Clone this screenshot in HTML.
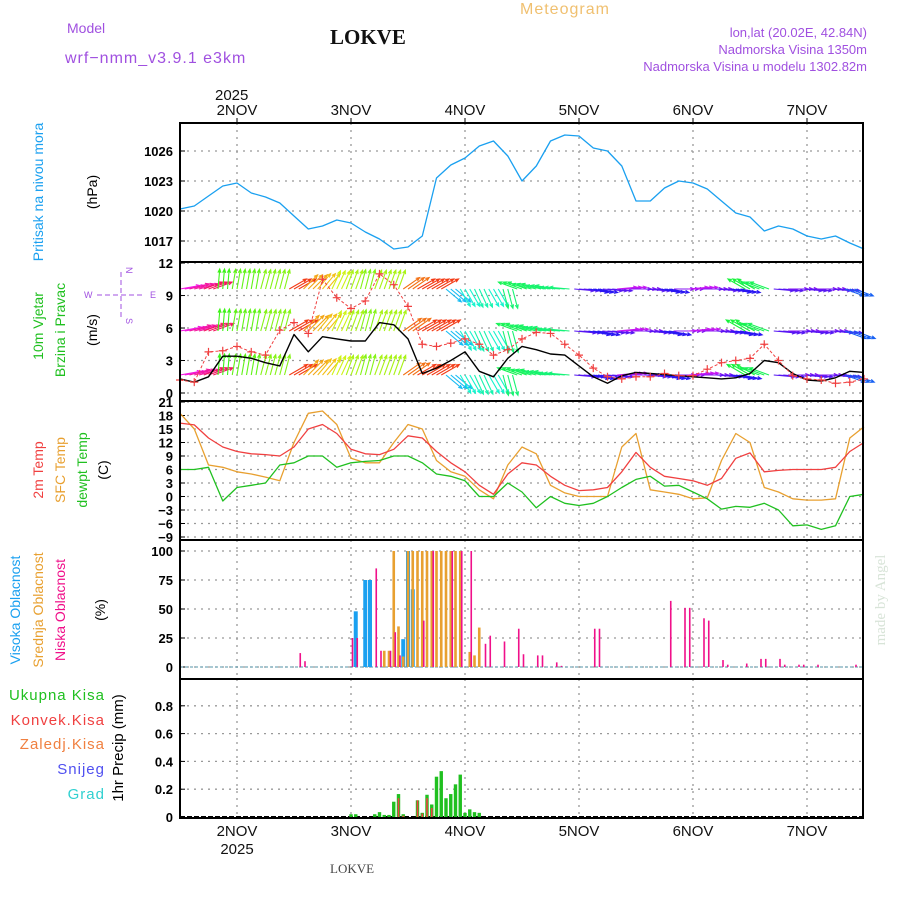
<!DOCTYPE html>
<html><head><meta charset="utf-8"><title>Meteogram LOKVE</title>
<style>
html,body{margin:0;padding:0;background:#fff;}
svg{display:block;}
.tk{font-family:"Liberation Sans",sans-serif;font-weight:bold;font-size:13px;fill:#000;}
.dt{font-family:"Liberation Sans",sans-serif;font-size:15px;fill:#111;}
.lb{font-family:"Liberation Sans",sans-serif;font-size:14px;}
</style></head>
<body>
<svg id="chart" width="900" height="900" viewBox="0 0 900 900" xmlns="http://www.w3.org/2000/svg">
<text x="67" y="33" class="lb" fill="#a050e0">Model</text>
<text x="65" y="63" class="lb" fill="#a050e0" style="font-size:16px;letter-spacing:1px">wrf−nmm_v3.9.1  e3km</text>
<text x="330" y="44" style="font-family:'Liberation Serif',serif;font-weight:bold;font-size:21px;fill:#111">LOKVE</text>
<text x="520" y="14" class="lb" fill="#f0c070" style="font-size:16px;letter-spacing:1px">Meteogram</text>
<text x="867" y="37" text-anchor="end" class="lb" fill="#a050e0" style="font-size:13px">lon,lat (20.02E, 42.84N)</text>
<text x="867" y="54" text-anchor="end" class="lb" fill="#a050e0" style="font-size:13px">Nadmorska Visina 1350m</text>
<text x="867" y="71" text-anchor="end" class="lb" fill="#a050e0" style="font-size:13px">Nadmorska Visina u modelu 1302.82m</text>
<text x="215" y="100" class="dt">2025</text>
<text x="330" y="873" style="font-family:'Liberation Serif',serif;font-size:13px;fill:#444">LOKVE</text>
<text transform="translate(885,600) rotate(-90)" text-anchor="middle" style="font-family:'Liberation Serif',serif;font-size:15px;fill:#d8e4d8">made by Angel</text>

<text transform="translate(43,192) rotate(-90)" text-anchor="middle" class="lb" fill="#1aa0f0">Pritisak na nivou mora</text>
<text transform="translate(97,192) rotate(-90)" text-anchor="middle" class="lb" fill="#000">(hPa)</text>
<text transform="translate(43,326) rotate(-90)" text-anchor="middle" class="lb" fill="#20c020">10m Vjetar</text>
<text transform="translate(65,330) rotate(-90)" text-anchor="middle" class="lb" fill="#20c020">Brzina i Pravac</text>
<text transform="translate(97,330) rotate(-90)" text-anchor="middle" class="lb" fill="#000">(m/s)</text>
<g fill="#a050e0" font-family="Liberation Sans,sans-serif" font-size="9">
<text transform="translate(126,267) rotate(90)">N</text>
<text x="84" y="298">W</text>
<text x="150" y="298">E</text>
<text transform="translate(126,318) rotate(90)">S</text>
<line x1="97" y1="295" x2="145" y2="295" stroke="#a050e0" stroke-dasharray="5,3"/>
<line x1="121" y1="272" x2="121" y2="318" stroke="#a050e0" stroke-dasharray="5,3"/>
</g>
<text transform="translate(43,470) rotate(-90)" text-anchor="middle" class="lb" fill="#f04040">2m Temp</text>
<text transform="translate(65,470) rotate(-90)" text-anchor="middle" class="lb" fill="#e8a030">SFC Temp</text>
<text transform="translate(87,470) rotate(-90)" text-anchor="middle" class="lb" fill="#20c020">dewpt Temp</text>
<text transform="translate(108,470) rotate(-90)" text-anchor="middle" class="lb" fill="#000">(C)</text>
<text transform="translate(20,610) rotate(-90)" text-anchor="middle" class="lb" fill="#1aa0f0">Visoka Oblacnost</text>
<text transform="translate(43,610) rotate(-90)" text-anchor="middle" class="lb" fill="#e8a030">Srednja Oblacnost</text>
<text transform="translate(65,610) rotate(-90)" text-anchor="middle" class="lb" fill="#f0108a">Niska Oblacnost</text>
<text transform="translate(105,610) rotate(-90)" text-anchor="middle" class="lb" fill="#000">(%)</text>
<text x="105" y="700" text-anchor="end" class="lb" fill="#20c020" style="font-size:15px;letter-spacing:1px">Ukupna  Kisa</text>
<text x="105" y="725" text-anchor="end" class="lb" fill="#f04040" style="font-size:15px;letter-spacing:1px">Konvek.Kisa</text>
<text x="105" y="749" text-anchor="end" class="lb" fill="#f08040" style="font-size:15px;letter-spacing:1px">Zaledj.Kisa</text>
<text x="105" y="774" text-anchor="end" class="lb" fill="#5050f0" style="font-size:15px;letter-spacing:1px">Snijeg</text>
<text x="105" y="799" text-anchor="end" class="lb" fill="#30d0d0" style="font-size:15px;letter-spacing:1px">Grad</text>
<text transform="translate(123,748) rotate(-90)" text-anchor="middle" class="lb" fill="#000" style="font-size:15px">1hr Precip (mm)</text>
</svg>
<script>
const startHour = -12, stepHour = 3;
const dayLabels = ["2NOV","3NOV","4NOV","5NOV","6NOV","7NOV"];
const pressure = [1020.2,1020.5,1021.5,1022.5,1022.8,1021.8,1021.4,1020.8,1019.5,1018.2,1018.5,1019.1,1018.8,1017.9,1017.2,1016.2,1016.4,1017.5,1023.3,1024.6,1025.3,1026.5,1027,1025.5,1023,1024.5,1027,1027.6,1027.5,1026.3,1026,1024.5,1021,1021,1022.3,1023,1022.8,1022.2,1021,1019.8,1019.4,1018,1018.5,1018.2,1017.5,1017.2,1017.5,1016.8,1016.2];
const pressureTicks = [1017,1020,1023,1026];
const windSpeed = [1.3,1.0,1.5,3.4,3.4,3.2,2.8,2.5,5.4,3.8,5.2,5.0,4.8,4.8,6.5,6.3,5.0,1.8,2.3,3.0,3.8,2.0,1.5,3.2,4.3,4.0,3.6,3.5,2.5,1.5,0.9,1.6,1.9,1.8,1.7,1.6,1.5,1.4,1.3,1.4,1.8,3.0,2.8,1.8,1.2,1.1,1.4,2.0,1.9];
const windGust = [1.2,1.0,3.8,3.9,4.3,3.8,3.5,5.8,6.5,5.5,10.5,8.8,7.8,8.5,11,10,8,4.5,4.3,4.6,5.0,4.5,3.5,4.0,5.0,5.6,5.5,4.5,3.5,2.3,1.5,1.3,1.5,1.5,1.8,1.6,1.6,2.2,2.8,3.0,3.2,4.5,3.0,1.6,1.3,1.2,0.9,1.0,1.3];
const windDir = [80,75,70,5,10,10,15,15,60,45,40,25,20,15,20,20,55,60,60,130,150,155,150,165,290,285,280,275,95,100,95,85,90,95,100,90,85,90,95,100,300,290,95,90,95,90,95,110,120];
const windTicks = [0,3,6,9,12];
const temp2m = [16.3,15.9,13,11,10,9.5,9.3,9,11,15,16,14,10.5,9.5,9.3,10.5,13.5,13,10,7.5,5.5,2.5,0.5,5,7.5,7,4.5,2.5,1.3,1.5,2,5.5,9.8,6.5,4.5,4,3.5,2.5,4,8.5,9.7,5.5,5.8,6,6,6,6.5,10,12];
const tempSfc = [18.5,15,7,6.5,5.5,5,4.3,3.5,12,18.5,19,16,8.5,7.5,7.5,12,16,15,8,5.5,4.5,1.5,-0.5,7,11,9.5,2.5,0.8,0,0,0,11,14,1.5,1.0,0.5,-0.5,-0.3,8,14,12,2,1,-0.5,-0.8,-0.8,-0.5,13,15.5];
const dewpt = [6,6,6.5,-1,2,2.5,3,7,7.5,9,9,6.5,7.5,7.8,8,9,9,7.5,5,4.5,3.5,0,0,3,1,-2.5,0,-1.5,-2,-1.5,0,2,3.8,4.5,2.3,2.5,1,-0.5,-2.8,-2.2,-2.4,-1.5,-3,-6.5,-6.3,-7.3,-6.5,0,0.5];
const tempTicks = [-9,-6,-3,0,3,6,9,12,15,18,21];
const highCloudHours = [25,27,28,35,36,37];
const highCloudVals  = [48,75,75,24,100,67];
const midCloudHours = [31,32,33,34,35,36,37,38,39,40,41,42,43,44,45,46,47,49,50,51];
const midCloudVals  = [14,14,100,35,9,100,100,100,100,100,100,100,100,100,100,100,100,13,10,34];
const lowCloudHours = [13,14,24,25,29,30,32,33,34,39,41,45,47,49,52,53,56,59,60,63,64,67,68,75,76,91,94,95,98,99,102,103,107,110,111,114,115,118,119,122,130];
const lowCloudVals  = [12,5,25,25,85,14,14,30,10,40,100,100,100,100,20,27,22,33,11,10,10,4,1,33,33,57,51,51,42,40,6,2,3,7,7,7,2,2,2,2,2];
const cloudTicks = [0,25,50,75,100];
const precipHours = [24,25,29,30,31,32,33,34,35,38,39,40,41,42,43,44,45,46,47,48,49,50,51];
const precipTotal = [0.02,0.02,0.02,0.035,0.015,0.015,0.11,0.165,0.02,0.12,0.03,0.16,0.09,0.29,0.33,0.135,0.165,0.235,0.305,0.03,0.055,0.035,0.03];
const convHours = [34,35,38,39,40,41];
const convVals  = [0.135,0.01,0.12,0.025,0.135,0.065];
const precipTicks = [0,0.2,0.4,0.6,0.8];
const precipTickLabels = ["0","0.2","0.4","0.6","0.8"];

const NS="http://www.w3.org/2000/svg";
const svg=document.getElementById('chart');
function mk(tag,attrs,parent){const e=document.createElementNS(NS,tag);for(const k in attrs)e.setAttribute(k,attrs[k]);(parent||svg).appendChild(e);return e;}
const L=180,R=863;
const X=h=>237+4.75*h;
const sx=i=>X(startHour+stepHour*i);
const P={p:[123,262],w:[262,401],t:[401,540],c:[540,679],r:[679,818]};
const Yp=v=>241-(v-1017)*10;
const Yw=v=>393-v*10.83;
const Yt=v=>496.5-v*4.5;
const Yc=v=>667-v*1.16;
const Yr=v=>817-v*139;

function grid(key,ticks,yf,labels,nameBase){
  const [t,b]=P[key];
  const g=mk('g',{});
  
  
  ticks.forEach((v,k)=>{
    const y=yf(v);
    const ln=mk('line',{x1:L,x2:R,y1:y,y2:y,stroke:'#999','stroke-width':1.3,'stroke-dasharray':'2,5'},g);
    
    
    mk('line',{x1:L,x2:L+5,y1:y,y2:y,stroke:'#000'},g);
    const tx=mk('text',{x:L-7,y:y+5,'text-anchor':'end',class:'tk'},g);
    tx.textContent=labels?labels[k]:String(v).replace('-','−');
    
    
  });
  dayLabels.forEach((d,k)=>{
    const x=X(24*k);
    const vl=mk('line',{x1:x,x2:x,y1:t,y2:b,stroke:'#999','stroke-width':1.3,'stroke-dasharray':'2,5'},g);
    
    
  });
}
grid('p',pressureTicks,Yp,null,'pressure');
grid('w',windTicks,Yw,null,'wind');
grid('t',tempTicks,Yt,null,'temp');
grid('c',cloudTicks,Yc,null,'cloud');
grid('r',precipTicks,Yr,precipTickLabels,'precip');

function line(arr,yf,color,name,w){
  const d=arr.map((v,i)=>(i?'L':'M')+sx(i).toFixed(1)+','+yf(v).toFixed(1)).join('');
  const p=mk('path',{d:d,fill:'none',stroke:color,'stroke-width':w||1.3,'stroke-linejoin':'round'});
  
  
  return p;
}
line(pressure,Yp,'#1aa0f0','pressure-line');

const hueTab=[[0,120],[30,60],[55,25],[70,-20],[90,-90],[110,-140],[150,-190],[180,-240],[270,-210],[315,-240],[360,-240]];
function hueOf(d){d=((d%360)+360)%360;for(let k=1;k<hueTab.length;k++){if(d<=hueTab[k][0]){const a=hueTab[k-1],b=hueTab[k];const v=a[1]+(b[1]-a[1])*(d-a[0])/(b[0]-a[0]);return ((v%360)+360)%360;}}return 120;}
const rows=[{base:289,len:20,name:'wind-arrows-upper'},{base:331,len:22,name:'wind-arrows-middle'},{base:375,len:21,name:'wind-arrows-lower'}];
rows.forEach(r=>{
  const g=mk('g',{});
  
  
  windDir.forEach((d,i)=>{
    const col='hsl('+hueOf(d)+',90%,52%)';
    const a=d*Math.PI/180;
    for(let s=0;s<3;s++){
      const x0=sx(i)+s*4.75-4.75, y0=r.base;
      if(x0<L||x0>R-4)continue;
      const x1=x0+Math.sin(a)*r.len, y1=y0-Math.cos(a)*r.len;
      const ar=mk('path',{d:'M'+x0+','+y0+'L'+x1+','+y1+
        'M'+(x1-4*Math.sin(a-0.4))+','+(y1+4*Math.cos(a-0.4))+'L'+x1+','+y1+'L'+(x1-4*Math.sin(a+0.4))+','+(y1+4*Math.cos(a+0.4)),
        stroke:col,'stroke-width':1.1,fill:'none'},g);
      
      
    }
  });
});
line(windSpeed,Yw,'#000','wind-speed-line',1.4);
const gl=line(windGust,Yw,'#f04040','wind-gust-line',1);
gl.setAttribute('stroke-dasharray','3,2');
windGust.forEach((v,i)=>{
  const x=sx(i),y=Yw(v);
  const m=mk('path',{d:'M'+(x-4)+','+y+'h8M'+x+','+(y-4)+'v8',stroke:'#f04040','stroke-width':1.2});
  
  
});

line(tempSfc,Yt,'#e8a030','sfc-temp-line');
line(temp2m,Yt,'#f04040','temp-2m-line');
line(dewpt,Yt,'#20c020','dewpt-line');

function bars(hours,vals,yf,zero,color,w,off,name){
  hours.forEach((h,k)=>{
    const x=X(h)+off, y=yf(vals[k]);
    const b=mk('rect',{x:x-w/2,y:y,width:w,height:Math.max(0,zero-y),fill:color});
    
    
  });
}
const zl=mk('line',{x1:L,x2:R,y1:667,y2:667,stroke:'#7ab',"stroke-width":1.2,'stroke-dasharray':'3,2'});


bars(highCloudHours,highCloudVals,Yc,667,'#1aa0f0',4,0,'high-cloud-bar');
bars(midCloudHours,midCloudVals,Yc,667,'#e8a030',2.6,0,'mid-cloud-bar');
bars(lowCloudHours,lowCloudVals,Yc,667,'#f0108a',1.6,1.5,'low-cloud-bar');

const pz=mk('line',{x1:L,x2:R,y1:817,y2:817,stroke:'#000','stroke-width':2,'stroke-dasharray':'5,2'});


bars(precipHours,precipTotal,Yr,817,'#20c020',3.4,0,'total-precip-bar');
bars(convHours,convVals,Yr,817,'#f04040',1.6,0,'convective-precip-bar');

Object.keys(P).forEach(k=>{
  const [t,b]=P[k];
  const f=mk('rect',{x:L,y:t,width:R-L,height:b-t,fill:'none',stroke:'#000','stroke-width':2});
  
  
});
dayLabels.forEach((d,k)=>{
  const x=X(24*k);
  mk('line',{x1:x,x2:x,y1:118,y2:123,stroke:'#000'});
  const t=mk('text',{x:x,y:115,'text-anchor':'middle',class:'dt'});
  t.textContent=d;
  
  
  const b=mk('text',{x:x,y:836,'text-anchor':'middle',class:'dt'});
  b.textContent=d;
  
  
});
const yb=mk('text',{x:X(0),y:854,'text-anchor':'middle',class:'dt'});
yb.textContent='2025';


</script>
</body></html>
